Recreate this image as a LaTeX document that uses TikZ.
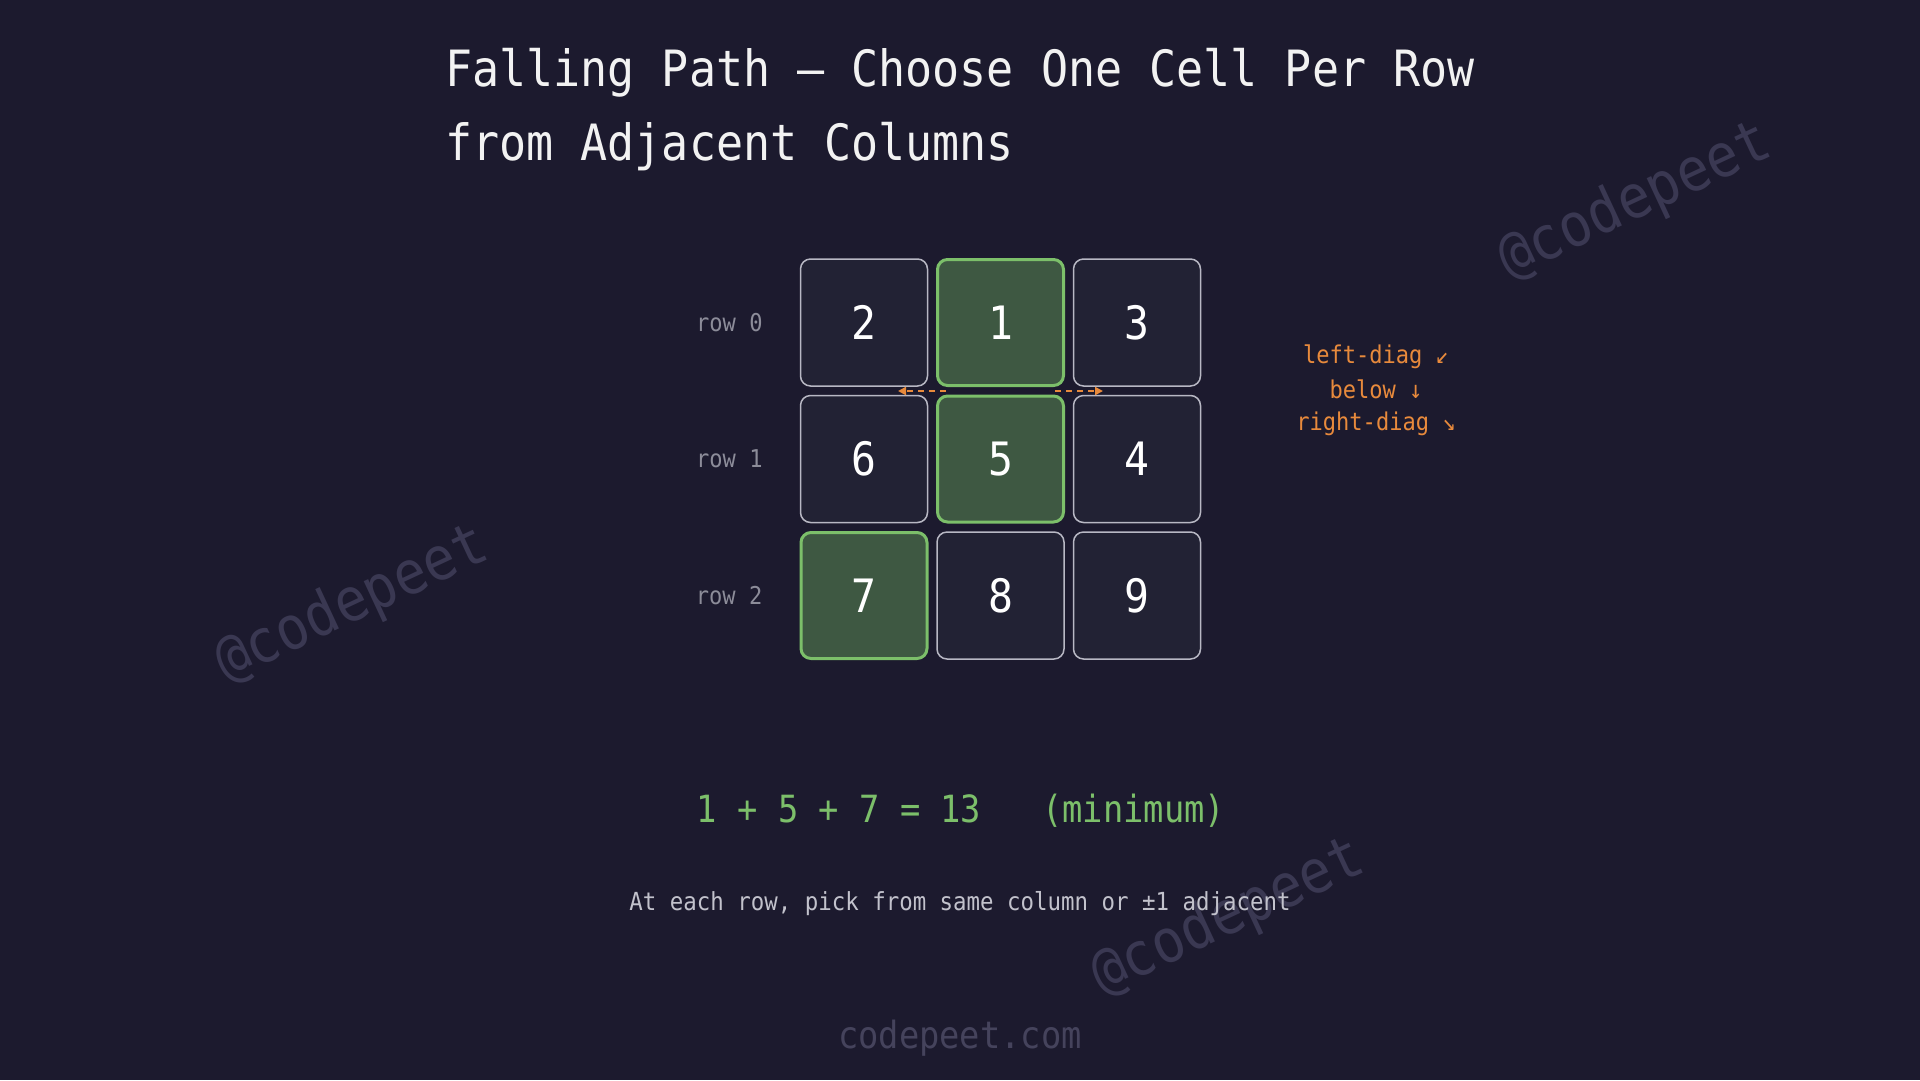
\documentclass[tikz,border=0pt]{standalone}
\usepackage{fontspec}
\usepackage{xcolor}
\usetikzlibrary{arrows.meta,positioning}

\newfontfamily\gridfont[FakeStretch=0.9]{DejaVu Sans Mono}

\definecolor{bgdark}{HTML}{1C1A2E}
\definecolor{cellfill}{HTML}{222234}
\definecolor{cellline}{HTML}{B8B8C4}
\definecolor{greenfill}{HTML}{3E5842}
\definecolor{greenline}{HTML}{7CBF6A}
\definecolor{diagorange}{HTML}{E88A3C}
\definecolor{titlewhite}{HTML}{F2F2F2}
\definecolor{rowgray}{HTML}{8C8C99}
\definecolor{notegray}{HTML}{C2C2CC}
\definecolor{markgray}{HTML}{3A3852}
\definecolor{footgray}{HTML}{45435C}

\begin{document}
\begin{tikzpicture}[x=1pt,y=-1pt,
    cell/.style={draw=cellline,fill=cellfill,line width=1.5pt,rounded corners=10pt,
        minimum size=127pt,inner sep=0pt,text=white,font=\gridfont\fontsize{46}{46}\selectfont},
    pick/.style={cell,draw=greenline,fill=greenfill,line width=3pt,minimum size=126pt},
    rowlabel/.style={inner sep=0pt,text=rowgray,font=\gridfont\fontsize{24.5}{24.5}\selectfont},
    diaglabel/.style={inner sep=0pt,anchor=base,text=diagorange,font=\gridfont\fontsize{24.5}{24.5}\selectfont},
    diagarrow/.style={draw=diagorange,line width=2pt,dash pattern=on 6pt off 5pt,
        -{Triangle[length=8pt,width=8pt]}},
    titletext/.style={inner sep=0pt,anchor=base west,text=titlewhite,font=\gridfont\fontsize{50}{50}\selectfont},
    watermark/.style={inner sep=0pt,text=markgray,font=\gridfont\fontsize{60}{60}\selectfont}]

        % Background
        \fill[bgdark] (0,0) rectangle (1920,1080);

        % Watermarks
        \node[watermark,rotate=25] (wm1) at (352,605) {@codepeet};
        \node[watermark,rotate=25] (wm2) at (1635,202) {@codepeet};
        \node[watermark,rotate=25] (wm3) at (1228,918) {@codepeet};

        % Title
        \node[titletext] (title1) at (445,86) {Falling Path — Choose One Cell Per Row};
        \node[titletext] (title2) at (445,160) {from Adjacent Columns};

        % Grid cells
        \node[cell] (c00) at (864,322.5) {2};
        \node[pick] (c01) at (1000.5,322.5) {1};
        \node[cell] (c02) at (1137,322.5) {3};
        \node[cell] (c10) at (864,459) {6};
        \node[pick] (c11) at (1000.5,459) {5};
        \node[cell] (c12) at (1137,459) {4};
        \node[pick] (c20) at (864,595.5) {7};
        \node[cell] (c21) at (1000.5,595.5) {8};
        \node[cell] (c22) at (1137,595.5) {9};

        % Row labels
        \node[rowlabel,left=37pt of c00] (r0) {row 0};
        \node[rowlabel,left=37pt of c10] (r1) {row 1};
        \node[rowlabel,left=37pt of c20] (r2) {row 2};

        % Diagonal moves between row 0 and row 1
        \coordinate (ltail) at (946,391);
        \coordinate (ltip) at (898,391);
        \coordinate (rtail) at (1055,391);
        \coordinate (rtip) at (1103,391);
        \draw[diagarrow] (ltail) -- (ltip);
        \draw[diagarrow] (rtail) -- (rtip);

        % Move legend
        \node[diaglabel] (lab1) at (1376,363) {left-diag ↙};
        \node[diaglabel] (lab2) at (1376,398) {below ↓};
        \node[diaglabel] (lab3) at (1376,430) {right-diag ↘};

        % Sum and note
        \node[inner sep=0pt,anchor=base,text=greenline,font=\gridfont\fontsize{37.5}{37.5}\selectfont]
            (sum) at (961,822) {1 + 5 + 7 = 13~~~(minimum)};
        \node[inner sep=0pt,anchor=base,text=notegray,font=\gridfont\fontsize{24.9}{24.9}\selectfont]
            (note) at (960,910) {At each row, pick from same column or ±1 adjacent};

        % Footer
        \node[inner sep=0pt,anchor=base,text=footgray,font=\gridfont\fontsize{37.5}{37.5}\selectfont]
            (foot) at (960,1048) {codepeet.com};
    \end{tikzpicture}
\end{document}
